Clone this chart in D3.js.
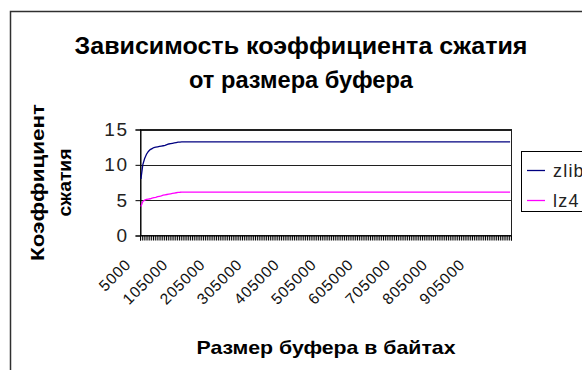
<!DOCTYPE html>
<html>
<head>
<meta charset="utf-8">
<script src="https://cdn.jsdelivr.net/npm/d3@7/dist/d3.min.js"></script>
<style>
  html, body { margin: 0; padding: 0; background: #fff; }
  svg { display: block; font-family: "Liberation Sans", Arial, sans-serif; }
</style>
</head>
<body>
<svg id="chart" width="582" height="370"></svg>
<script>
// Buffer sizes in bytes: 5000 .. 1000000, step 5000
const bufferSizes = d3.range(5000, 1000001, 5000);

// Compression ratio for each buffer size
const zlibRatio = [
  8.0, 10.0, 10.9, 11.5, 11.9, 12.15, 12.3, 12.45, 12.5, 12.55, 12.6, 12.65, 12.7, 12.75, 12.85, 12.95, 13.0, 13.05, 13.1, 13.15,
  13.2, 13.22, 13.25, 13.25, 13.25, 13.25, 13.25, 13.25, 13.25, 13.25, 13.25, 13.25, 13.25, 13.25, 13.25, 13.25, 13.25, 13.25, 13.25, 13.25,
  13.25, 13.25, 13.25, 13.25, 13.25, 13.25, 13.25, 13.25, 13.25, 13.25, 13.25, 13.25, 13.25, 13.25, 13.25, 13.25, 13.25, 13.25, 13.25, 13.25,
  13.25, 13.25, 13.25, 13.25, 13.25, 13.25, 13.25, 13.25, 13.25, 13.25, 13.25, 13.25, 13.25, 13.25, 13.25, 13.25, 13.25, 13.25, 13.25, 13.25,
  13.25, 13.25, 13.25, 13.25, 13.25, 13.25, 13.25, 13.25, 13.25, 13.25, 13.25, 13.25, 13.25, 13.25, 13.25, 13.25, 13.25, 13.25, 13.25, 13.25,
  13.25, 13.25, 13.25, 13.25, 13.25, 13.25, 13.25, 13.25, 13.25, 13.25, 13.25, 13.25, 13.25, 13.25, 13.25, 13.25, 13.25, 13.25, 13.25, 13.25,
  13.25, 13.25, 13.25, 13.25, 13.25, 13.25, 13.25, 13.25, 13.25, 13.25, 13.25, 13.25, 13.25, 13.25, 13.25, 13.25, 13.25, 13.25, 13.25, 13.25,
  13.25, 13.25, 13.25, 13.25, 13.25, 13.25, 13.25, 13.25, 13.25, 13.25, 13.25, 13.25, 13.25, 13.25, 13.25, 13.25, 13.25, 13.25, 13.25, 13.25,
  13.25, 13.25, 13.25, 13.25, 13.25, 13.25, 13.25, 13.25, 13.25, 13.25, 13.25, 13.25, 13.25, 13.25, 13.25, 13.25, 13.25, 13.25, 13.25, 13.25,
  13.25, 13.25, 13.25, 13.25, 13.25, 13.25, 13.25, 13.25, 13.25, 13.25, 13.25, 13.25, 13.25, 13.25, 13.25, 13.25, 13.25, 13.25, 13.25, 13.25
];

const lz4Ratio = [
  4.1, 4.8, 5.0, 5.1, 5.15, 5.2, 5.3, 5.35, 5.4, 5.5, 5.55, 5.6, 5.7, 5.75, 5.8, 5.85, 5.9, 5.95, 6.0, 6.05,
  6.1, 6.12, 6.15, 6.15, 6.15, 6.15, 6.15, 6.15, 6.15, 6.15, 6.15, 6.15, 6.15, 6.15, 6.15, 6.15, 6.15, 6.15, 6.15, 6.15,
  6.15, 6.15, 6.15, 6.15, 6.15, 6.15, 6.15, 6.15, 6.15, 6.15, 6.15, 6.15, 6.15, 6.15, 6.15, 6.15, 6.15, 6.15, 6.15, 6.15,
  6.15, 6.15, 6.15, 6.15, 6.15, 6.15, 6.15, 6.15, 6.15, 6.15, 6.15, 6.15, 6.15, 6.15, 6.15, 6.15, 6.15, 6.15, 6.15, 6.15,
  6.15, 6.15, 6.15, 6.15, 6.15, 6.15, 6.15, 6.15, 6.15, 6.15, 6.15, 6.15, 6.15, 6.15, 6.15, 6.15, 6.15, 6.15, 6.15, 6.15,
  6.15, 6.15, 6.15, 6.15, 6.15, 6.15, 6.15, 6.15, 6.15, 6.15, 6.15, 6.15, 6.15, 6.15, 6.15, 6.15, 6.15, 6.15, 6.15, 6.15,
  6.15, 6.15, 6.15, 6.15, 6.15, 6.15, 6.15, 6.15, 6.15, 6.15, 6.15, 6.15, 6.15, 6.15, 6.15, 6.15, 6.15, 6.15, 6.15, 6.15,
  6.15, 6.15, 6.15, 6.15, 6.15, 6.15, 6.15, 6.15, 6.15, 6.15, 6.15, 6.15, 6.15, 6.15, 6.15, 6.15, 6.15, 6.15, 6.15, 6.15,
  6.15, 6.15, 6.15, 6.15, 6.15, 6.15, 6.15, 6.15, 6.15, 6.15, 6.15, 6.15, 6.15, 6.15, 6.15, 6.15, 6.15, 6.15, 6.15, 6.15,
  6.15, 6.15, 6.15, 6.15, 6.15, 6.15, 6.15, 6.15, 6.15, 6.15, 6.15, 6.15, 6.15, 6.15, 6.15, 6.15, 6.15, 6.15, 6.15, 6.15
];

const seriesNames = ["zlib", "lz4"];
const seriesColors = ["#000080", "#ff00ff"];

// Category labels shown along the x axis
const xTickLabels = ["5000", "105000", "205000", "305000", "405000", "505000", "605000", "705000", "805000", "905000"];
const yTickValues = [0, 5, 10, 15];

const titleLines = ["Зависимость коэффициента сжатия", "от размера буфера"];
const yTitleLines = ["Коэффициент", "сжатия"];
const xTitle = "Размер буфера в байтах";

const svg = d3.select("#chart");

// Outer chart frame
svg.append("rect")
  .attr("x", 10.5).attr("y", 11.5)
  .attr("width", 620).attr("height", 420)
  .attr("fill", "#fff").attr("stroke", "#303030").attr("stroke-width", 1.5);

const plot = { left: 140, right: 511, top: 129.5, bottom: 235.5 };

const xBand = d3.scaleBand()
  .domain(bufferSizes)
  .range([plot.left, plot.right])
  .paddingInner(0).paddingOuter(0);
const xMid = d => xBand(d) + xBand.bandwidth() / 2;

const y = d3.scaleLinear().domain([0, 15]).range([plot.bottom, plot.top]);

// Plot area and gridlines
svg.append("rect")
  .attr("x", plot.left + 0.5).attr("y", plot.top)
  .attr("width", plot.right - plot.left).attr("height", plot.bottom - plot.top)
  .attr("fill", "#fff").attr("stroke", "#202020").attr("stroke-width", 1);

svg.append("g")
  .selectAll("line")
  .data(yTickValues.filter(v => v > 0))
  .join("line")
  .attr("x1", plot.left).attr("x2", plot.right + 0.5)
  .attr("y1", d => Math.round(y(d)) + 0.5).attr("y2", d => Math.round(y(d)) + 0.5)
  .attr("stroke", "#202020").attr("stroke-width", 1);

// Y axis
const yAxis = d3.axisLeft(y).tickValues(yTickValues).tickSize(5).tickPadding(7);
const gy = svg.append("g")
  .attr("transform", `translate(${plot.left + 0.5},0)`)
  .call(yAxis);
gy.select(".domain").attr("stroke", "#000");
gy.selectAll(".tick line").attr("stroke", "#000");
gy.selectAll(".tick text")
  .attr("font-family", "Liberation Sans, Arial, sans-serif")
  .attr("font-size", 19).attr("letter-spacing", 1.5).attr("fill", "#222");

// X axis: a tick mark on each category boundary
const xEdges = bufferSizes.map(d => xBand(d)).concat([plot.right]);
const xScaleEdges = d3.scaleIdentity().domain([plot.left, plot.right]);
const xAxis = d3.axisBottom(xScaleEdges).tickValues(xEdges).tickSize(5).tickFormat("");
const gx = svg.append("g")
  .attr("transform", `translate(0,${plot.bottom})`)
  .call(xAxis);
gx.select(".domain").attr("stroke", "#000");
gx.selectAll(".tick line").attr("stroke", "#000").attr("stroke-width", 1);

// Rotated category labels
svg.append("g")
  .selectAll("text")
  .data(xTickLabels)
  .join("text")
  .attr("transform", d => `translate(${xMid(+d) - 9},${plot.bottom + 30}) rotate(-45)`)
  .attr("text-anchor", "end")
  .attr("font-size", 15.5)
  .attr("letter-spacing", 0.8)
  .attr("fill", "#111")
  .text(d => d);

// Series lines
const line = d3.line()
  .x((v, i) => xMid(bufferSizes[i]))
  .y(v => y(v));

[zlibRatio, lz4Ratio].forEach((vals, k) => {
  svg.append("path")
    .attr("d", line(vals))
    .attr("fill", "none")
    .attr("stroke", seriesColors[k])
    .attr("stroke-width", 1.3);
});

// Title
const titleWidths = [453, 224];
svg.append("g")
  .selectAll("text")
  .data(titleLines)
  .join("text")
  .attr("x", 301).attr("y", (d, i) => 54 + i * 34)
  .attr("text-anchor", "middle")
  .attr("font-weight", "bold").attr("font-size", 23)
  .attr("textLength", (d, i) => titleWidths[i])
  .attr("lengthAdjust", "spacingAndGlyphs")
  .attr("fill", "#000")
  .text(d => d);

// Y axis title
const yTitleWidths = [157, 68];
svg.append("g")
  .attr("transform", `translate(0,${(plot.top + plot.bottom) / 2})`)
  .selectAll("text")
  .data(yTitleLines)
  .join("text")
  .attr("transform", (d, i) => `translate(${44 + i * 27},0) rotate(-90)`)
  .attr("text-anchor", "middle")
  .attr("font-weight", "bold").attr("font-size", 19)
  .attr("textLength", (d, i) => yTitleWidths[i])
  .attr("lengthAdjust", "spacingAndGlyphs")
  .attr("fill", "#000")
  .text(d => d);

// X axis title
svg.append("text")
  .attr("x", 326).attr("y", 354)
  .attr("text-anchor", "middle")
  .attr("font-weight", "bold").attr("font-size", 19)
  .attr("textLength", 259)
  .attr("lengthAdjust", "spacingAndGlyphs")
  .attr("fill", "#000")
  .text(xTitle);

// Legend
const legend = svg.append("g");
legend.append("rect")
  .attr("x", 521.5).attr("y", 151.5)
  .attr("width", 100).attr("height", 60)
  .attr("fill", "#fff").attr("stroke", "#000").attr("stroke-width", 1);
const items = legend.selectAll("g.item")
  .data(seriesNames)
  .join("g")
  .attr("class", "item")
  .attr("transform", (d, i) => `translate(0,${170 + i * 30})`);
items.append("line")
  .attr("x1", 527).attr("x2", 545)
  .attr("y1", 0.5).attr("y2", 0.5)
  .attr("stroke", (d, i) => seriesColors[i]).attr("stroke-width", 1.3);
items.append("text")
  .attr("x", 553).attr("y", 7)
  .attr("font-size", 18)
  .attr("letter-spacing", 1.2)
  .attr("fill", "#222")
  .text(d => d);
</script>
</body>
</html>
